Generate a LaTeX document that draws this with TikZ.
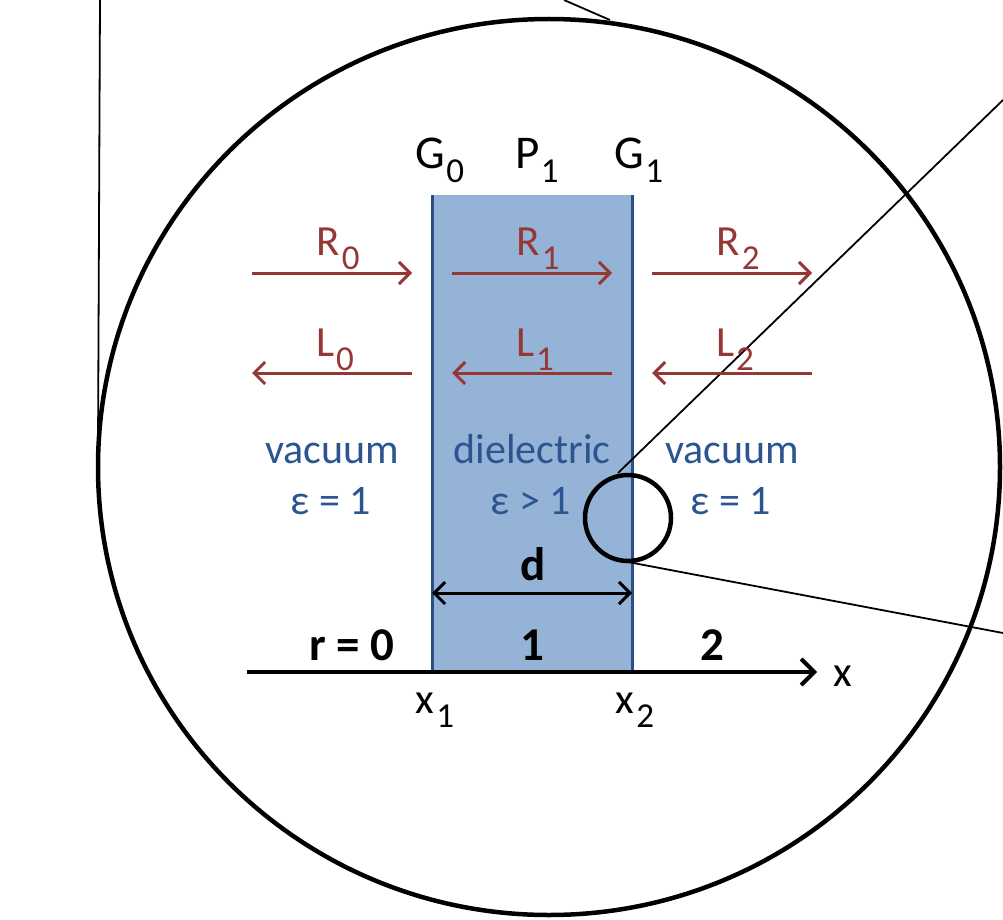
\documentclass[tikz,border=0pt]{standalone}
\usepackage{fontspec}
\setmainfont{Carlito}
\usetikzlibrary{arrows.meta}
\definecolor{slabfill}{HTML}{95B3D7}
\definecolor{slabedge}{HTML}{2A4F85}
\definecolor{wavecol}{HTML}{953735}
\definecolor{matcol}{HTML}{2B5591}
\newcommand\sbs[2][2pt]{\hspace{#1}\raisebox{-14pt}{\fontsize{35}{35}\selectfont #2}}
\begin{document}
\begin{tikzpicture}[x=1pt,y=-1pt,
  lbl/.style={anchor=base, inner sep=0pt, font=\fontsize{43}{43}\selectfont},
  headlbl/.style={anchor=base, inner sep=0pt, font=\fontsize{47}{47}\selectfont},
  wavelbl/.style={lbl, text=wavecol},
  matlbl/.style={anchor=base, inner sep=0pt, text=matcol, font=\fontsize{42}{42}\selectfont},
  boldlbl/.style={anchor=base, inner sep=0pt, font=\fontsize{47}{47}\selectfont\bfseries},
  wavearrow/.style={draw=wavecol, line width=3pt, -{Straight Barb[length=11pt,width=22pt]}},
  thinline/.style={draw=black, line width=1.8pt},
  ring/.style={draw=black, line width=4.5pt}
]
\useasboundingbox (0,0) rectangle (1003,920);
% slab
\fill[slabfill] (432,195) rectangle (632,672);
\draw[slabedge, line width=3pt] (432,195) -- (432,672);
\draw[slabedge, line width=3pt] (632,195) -- (632,672);
% magnifier lines
\coordinate (tl1) at (100,0);
\coordinate (tl2) at (98,450);
\coordinate (tt1) at (564,0);
\coordinate (tt2) at (610,20);
\coordinate (ur1) at (1003,100);
\coordinate (ur2) at (618,473);
\coordinate (lr1) at (628,562);
\coordinate (lr2) at (1003,633);
\draw[thinline] (tl1) -- (tl2);
\draw[thinline] (tt1) -- (tt2);
\draw[thinline] (ur1) -- (ur2);
\draw[thinline] (lr1) -- (lr2);
% circles
\coordinate (bigc) at (549,467);
\draw[ring] (bigc) ellipse [x radius=451, y radius=448];
\coordinate (smallc) at (628,518);
\draw[ring] (smallc) circle [radius=43];
% header labels
\node[headlbl] (G0) at (440,168) {G\sbs[1pt]{0}};
\node[headlbl] (P1) at (537,168) {P\sbs[1pt]{1}};
\node[headlbl] (G1) at (639,168) {G\sbs[1pt]{1}};
% wave arrows
\coordinate (r0a) at (252,273); \coordinate (r0b) at (412,273);
\coordinate (r1a) at (452,273); \coordinate (r1b) at (612,273);
\coordinate (r2a) at (652,273); \coordinate (r2b) at (812,273);
\coordinate (l0a) at (412,373); \coordinate (l0b) at (252,373);
\coordinate (l1a) at (612,373); \coordinate (l1b) at (452,373);
\coordinate (l2a) at (812,373); \coordinate (l2b) at (652,373);
\draw[wavearrow] (r0a) -- (r0b);
\draw[wavearrow] (r1a) -- (r1b);
\draw[wavearrow] (r2a) -- (r2b);
\draw[wavearrow] (l0a) -- (l0b);
\draw[wavearrow] (l1a) -- (l1b);
\draw[wavearrow] (l2a) -- (l2b);
\node[wavelbl] (R0) at (338,255) {R\sbs{0}};
\node[wavelbl] (R1) at (538,255) {R\sbs{1}};
\node[wavelbl] (R2) at (738,255) {R\sbs{2}};
\node[wavelbl] (L0) at (335,356) {L\sbs{0}};
\node[wavelbl] (L1) at (535,356) {L\sbs{1}};
\node[wavelbl] (L2) at (735,356) {L\sbs{2}};
% material labels
\node[matlbl] (vac0) at (332,463) {vacuum};
\node[matlbl] (eps0) at (331,514) {ε = 1};
\node[matlbl] (diel) at (532,463) {dielectric};
\node[matlbl] (eps1) at (531,514) {ε > 1};
\node[matlbl] (vac2) at (732,463) {vacuum};
\node[matlbl] (eps2) at (731,514) {ε = 1};
% thickness
\coordinate (da) at (432,593);
\coordinate (db) at (632,593);
\draw[line width=3pt, {Straight Barb[length=11pt,width=22pt]}-{Straight Barb[length=11pt,width=22pt]}] (da) -- (db);
\node[boldlbl] (dlab) at (533,580) {d};
% axis
\coordinate (ax0) at (247,672);
\coordinate (ax1) at (817,672);
\draw[line width=4pt, -{Straight Barb[length=13pt,width=26pt]}] (ax0) -- (ax1);
\node[boldlbl] (reg0) at (352,660) {r = 0};
\node[boldlbl] (reg1) at (532,660) {1};
\node[boldlbl] (reg2) at (712,660) {2};
\node[lbl] (xlab) at (843,686) {x};
\node[lbl] (x1) at (435,713) {x\sbs{1}};
\node[lbl] (x2) at (635,713) {x\sbs{2}};
\end{tikzpicture}
\end{document}
